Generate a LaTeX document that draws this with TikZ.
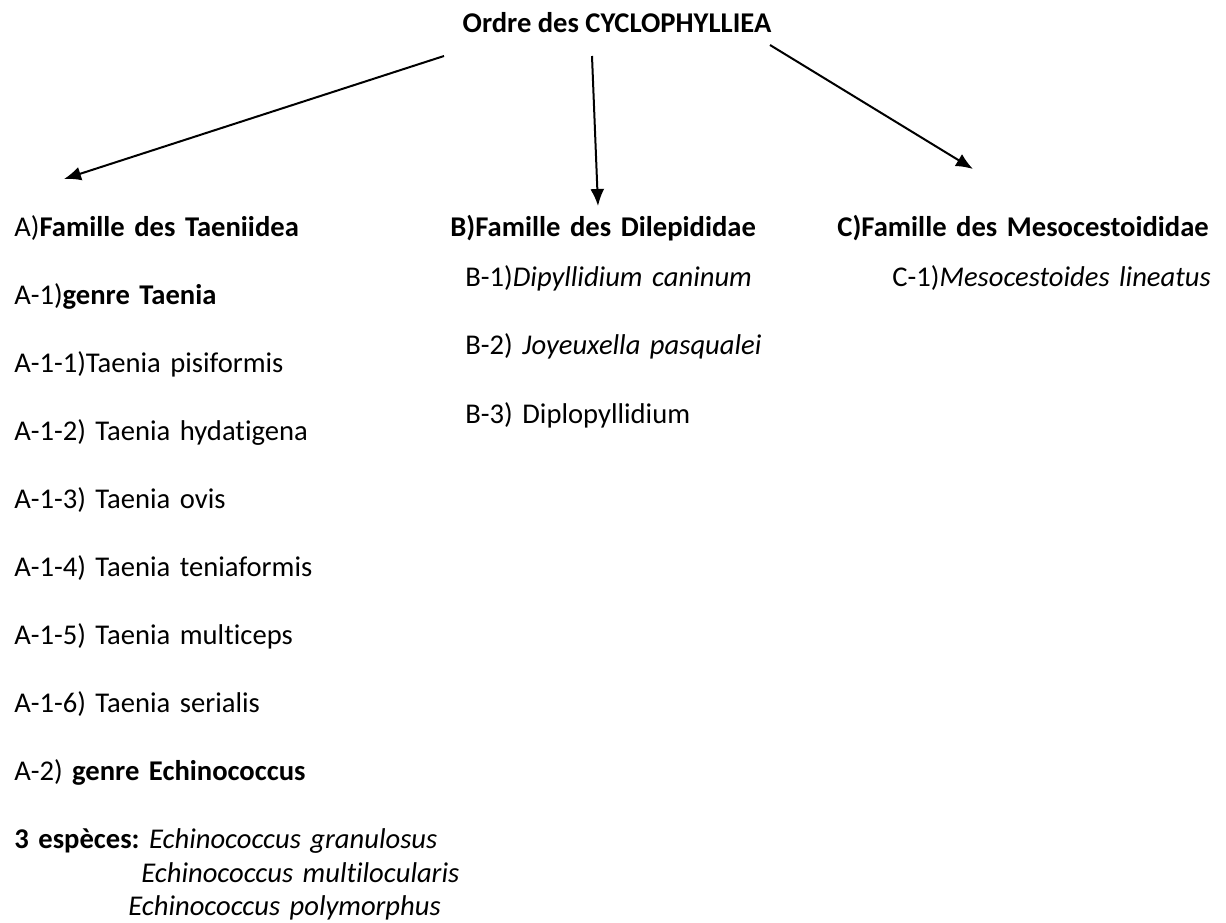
\documentclass[tikz,border=0pt]{standalone}
\usepackage{fontspec}
\setmainfont{Carlito}[Ligatures=NoCommon]
\usepackage{tikz}
\usetikzlibrary{arrows.meta,positioning}
\frenchspacing
\tikzset{
  label/.style={inner sep=0pt, font=\fontsize{14.3}{17}\selectfont},
  item/.style={label, text width=9cm, align=left, text height=11pt, text depth=4pt},
  arrow/.style={-{Latex[length=8.5pt, width=7pt]}, line width=1pt}
}

\begin{document}
\begin{tikzpicture}[x=0.5pt, y=-0.5pt, node distance=18.65pt]
  \useasboundingbox (0,0) rectangle (1226,922);

  \node[label, anchor=base, font=\fontsize{14.3}{17}\selectfont\bfseries] (ordre) at (617,32) {Ordre des CYCLOPHYLLIEA};

  \node[item, anchor=base west] (famA) at (14,236) {A)\textbf{Famille des Taeniidea}};
  \node[item, anchor=base west] (famB) at (450,236) {\textbf{B)Famille des Dilepididae}};
  \node[item, anchor=base west] (famC) at (837,236) {\textbf{C)Famille des Mesocestoididae}};

  \node[item, below=of famA] (taenia) {A-1)\textbf{genre Taenia}};
  \node[item, below=of taenia] (pisi) {A-1-1)Taenia pisiformis};
  \node[item, below=of pisi] (hyda) {A-1-2) Taenia hydatigena};
  \node[item, below=of hyda] (ovis) {A-1-3) Taenia ovis};
  \node[item, below=of ovis] (tenia) {A-1-4) Taenia teniaformis};
  \node[item, below=of tenia] (multiceps) {A-1-5) Taenia multiceps};
  \node[item, below=of multiceps] (serialis) {A-1-6) Taenia serialis};
  \node[item, below=of serialis] (echino) {A-2) \textbf{genre Echinococcus}};
  \node[item, below=of echino] (especes) {\textbf{3 espèces:} \textit{Echinococcus granulosus}};
  \node[item, below=1.25pt of especes, xshift=63.5pt] (multiloc) {\textit{Echinococcus multilocularis}};
  \node[item, below=1.25pt of multiloc, xshift=-6.5pt] (polymor) {\textit{Echinococcus polymorphus}};

  \node[item, below=10pt of famB, xshift=7.5pt] (caninum) {B-1)\textit{Dipyllidium caninum}};
  \node[item, below=of caninum] (pasqualei) {B-2) \textit{Joyeuxella pasqualei}};
  \node[item, below=of pasqualei] (diplo) {B-3) Diplopyllidium};

  \node[item, below=10pt of famC, xshift=27.5pt] (lineatus) {C-1)\textit{Mesocestoides lineatus}};

  \coordinate (fromA) at (444,56);
  \coordinate (fromB) at (592,56);
  \coordinate (fromC) at (770,45);
  \coordinate (toA) at (64,179);
  \coordinate (toB) at (598,206);
  \coordinate (toC) at (973,169);

  \draw[arrow] (fromA) -- (toA);
  \draw[arrow] (fromB) -- (toB);
  \draw[arrow] (fromC) -- (toC);
\end{tikzpicture}
\end{document}
